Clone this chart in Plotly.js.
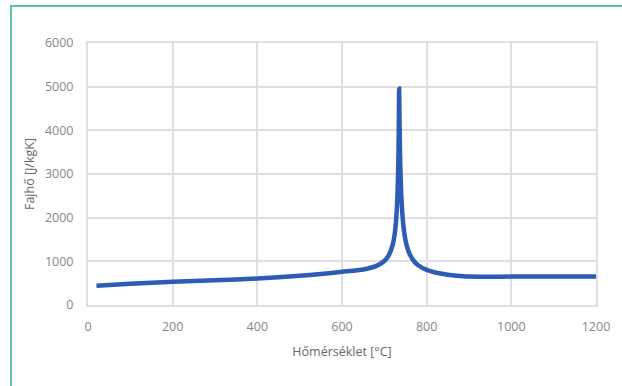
<!DOCTYPE html>
<html>
<head>
<meta charset="utf-8">
<script src="https://cdn.plot.ly/plotly-3.0.1.min.js"></script>
<style>
  html, body { margin: 0; padding: 0; background: #ffffff; }
  #wrap { position: relative; width: 622px; height: 386px; overflow: hidden; }
  #frame { position: absolute; left: 10px; top: 5px; width: 700px; height: 500px;
           border: 2px solid #5cc49a; box-sizing: border-box; pointer-events: none; z-index: 2; }
  #chart { position: absolute; left: 0; top: 0; width: 622px; height: 386px; }
</style>
</head>
<body>
<div id="wrap">
  <div id="chart"></div>
  <div id="frame"></div>
</div>
<script>
// Hőmérséklet [°C]
const temperature = [20, 100, 200, 300, 400, 500, 550, 600, 650, 680, 700, 710, 720, 725, 728, 730, 732, 733, 734, 735,
                     736, 737, 738, 740, 742, 745, 750, 755, 760, 770, 780, 800, 820, 850, 880, 900, 1000, 1100, 1200];
// Fajhő [J/kgK]
const specificHeat = [440, 488, 530, 565, 606, 667, 708, 760, 814, 890, 1008, 1130, 1388, 1666, 1966, 2291, 2833, 3266, 3917, 4950,
                      4109, 3515, 3091, 2525, 2165, 1818, 1483, 1288, 1160, 1002, 909, 803, 745, 695, 665, 650, 650, 650, 650];

const xTicks = [0, 200, 400, 600, 800, 1000, 1200];
const yTicks = [0, 1000, 2000, 3000, 4000, 5000, 6000];

const gridColor = '#e0dede';
const tickFont = { family: 'Open Sans, sans-serif', size: 12.5, color: '#878787' };
const titleFont = { family: 'Open Sans, sans-serif', size: 12.5, color: '#676767' };

Plotly.newPlot('chart', [{
  x: temperature,
  y: specificHeat,
  type: 'scatter',
  mode: 'lines',
  line: { color: '#2d5bb5', width: 4.5, shape: 'spline', smoothing: 0.6 },
  hoverinfo: 'x+y'
}], {
  width: 622,
  height: 386,
  margin: { l: 88, r: 26, t: 43, b: 81 },
  paper_bgcolor: '#ffffff',
  plot_bgcolor: '#ffffff',
  showlegend: false,
  xaxis: {
    range: [0, 1200],
    tickvals: xTicks,
    ticktext: xTicks.map(String),
    showgrid: true,
    gridcolor: gridColor,
    gridwidth: 2,
    zeroline: false,
    showline: true,
    linecolor: gridColor,
    linewidth: 2,
    mirror: true,
    ticks: '',
    ticklabelstandoff: 9,
    tickfont: tickFont,
    title: { text: 'Hőmérséklet [°C]', font: titleFont, standoff: 13 }
  },
  yaxis: {
    range: [0, 6000],
    tickvals: yTicks,
    ticktext: yTicks.map(String),
    showgrid: true,
    gridcolor: gridColor,
    gridwidth: 2,
    zeroline: false,
    showline: true,
    linecolor: gridColor,
    linewidth: 2,
    mirror: true,
    ticks: '',
    ticklabelstandoff: 10,
    tickfont: tickFont,
    title: { text: 'Fajhő [J/kgK]', font: titleFont, standoff: 8 }
  }
}, { staticPlot: true, displayModeBar: false });
</script>
</body>
</html>
